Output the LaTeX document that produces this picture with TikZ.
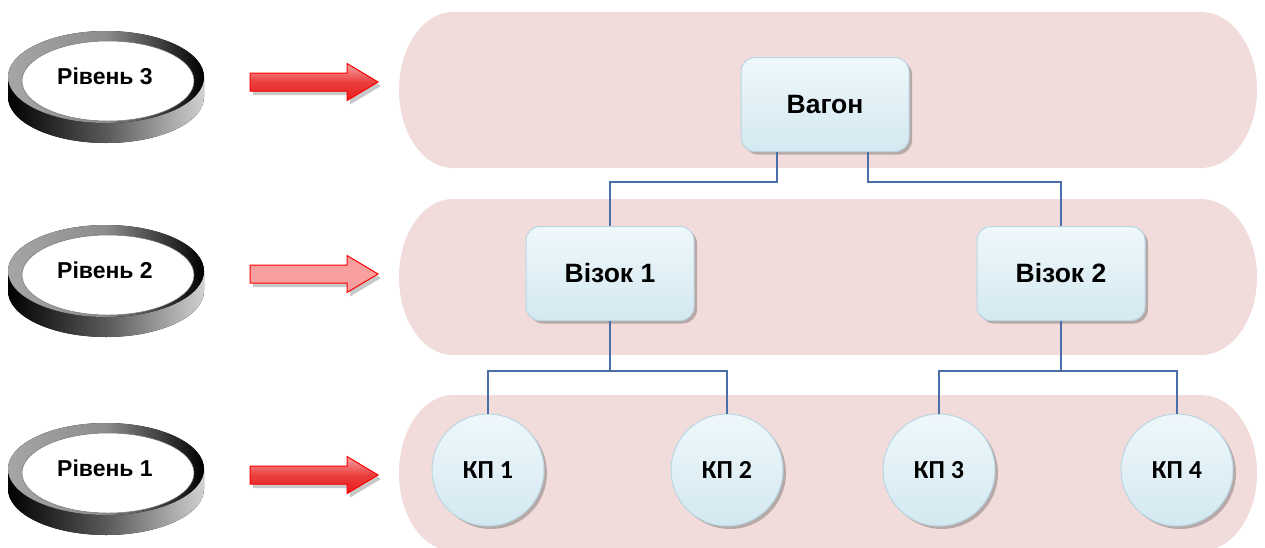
\documentclass[tikz,border=0pt]{standalone}
\usepackage{fontspec}
\setmainfont{Liberation Sans}
\newfontfamily\kpfont{Carlito}
\usetikzlibrary{shadows}
\definecolor{bandpink}{HTML}{F2DCDB}
\definecolor{boxtop}{HTML}{EFF8FB}
\definecolor{boxbot}{HTML}{D3E8F0}
\definecolor{boxedge}{HTML}{B8D7E3}
\definecolor{connblue}{HTML}{4A6FA8}
\definecolor{arrred}{HTML}{E81C1C}
\definecolor{arrlight}{HTML}{F8A0A0}
\newcommand\ringlevel[3]{%
  \fill[left color=black, right color=black!18, middle color=black!65]
    (8,{#1+1}) -- (8,{#1+21}) arc[start angle=180, end angle=0, x radius=98, y radius=46] -- (204,{#1+1}) -- cycle;
  \fill[left color=black!35, right color=black, middle color=black!45]
    (106,{#1+1}) ellipse[x radius=98, y radius=46];
  \fill[white, draw=black!55, line width=0.5pt] (108,{#1+5}) ellipse[x radius=86, y radius=40];
  \node[ringtext] (#2) at (105,#1) {#3};
}
\newcommand\blockarrow[2]{%
  \fill[#2] (250,{#1-9}) -- (347,{#1-9}) -- (347,{#1-18.5}) -- (378,#1) -- (347,{#1+18.5}) -- (347,{#1+9}) -- (250,{#1+9}) -- cycle;
}
\begin{document}
\begin{tikzpicture}[x=1pt,y=-1pt,
  ringtext/.style={font=\fontsize{23}{27}\selectfont\bfseries, inner sep=0pt},
  box/.style={rectangle, rounded corners=14pt, minimum width=168pt, minimum height=94pt,
    top color=boxtop, bottom color=boxbot, draw=boxedge, line width=1pt,
    drop shadow={shadow xshift=3pt, shadow yshift=-3pt, opacity=0.35, fill=black!70},
    font=\fontsize{26.5}{30}\selectfont\bfseries},
  kp/.style={circle, minimum size=112pt, inner sep=0pt,
    top color=boxtop, bottom color=boxbot, draw=boxedge, line width=1pt,
    drop shadow={shadow xshift=3pt, shadow yshift=-3pt, opacity=0.35, fill=black!70},
    font=\kpfont\fontsize{26}{30}\selectfont\bfseries},
  conn/.style={draw=connblue, line width=1.1pt},
  redarrow/.style={top color=arrred!40, bottom color=arrred, middle color=arrred!85, draw=red, line width=1pt,
    drop shadow={shadow xshift=3pt, shadow yshift=-4pt, opacity=0.3, fill=black!70}},
  pinkarrow/.style={fill=arrlight, draw=red, line width=1pt,
    drop shadow={shadow xshift=3pt, shadow yshift=-4pt, opacity=0.3, fill=black!70}},
  bandfill/.style={fill=bandpink}
]
\useasboundingbox (0,0) rectangle (1265,547);
\clip (0,0) rectangle (1265,547);
\fill[white] (0,0) rectangle (1265,547);

% bands
\fill[bandfill] (453,90) ellipse[x radius=54, y radius=78] (1201,90) ellipse[x radius=56, y radius=78];
\fill[bandfill] (453,12) rectangle (1201,168);
\fill[bandfill] (453,277) ellipse[x radius=54, y radius=78] (1201,277) ellipse[x radius=56, y radius=78];
\fill[bandfill] (453,199) rectangle (1201,355);
\fill[bandfill] (453,473) ellipse[x radius=54, y radius=78] (1201,473) ellipse[x radius=56, y radius=78];
\fill[bandfill] (453,395) rectangle (1201,551);

% rings
\ringlevel{76}{r3}{Рівень 3}
\ringlevel{270}{r2}{Рівень 2}
\ringlevel{468}{r1}{Рівень 1}

% arrows
\blockarrow{82}{redarrow}
\blockarrow{274}{pinkarrow}
\blockarrow{475}{redarrow}

% nodes
\node[box] (wagon) at (825,104.5) {Вагон};
\node[box] (viz1) at (610,273.5) {Візок 1};
\node[box] (viz2) at (1061,273.5) {Візок 2};
\node[kp] (kp1) at (488,470) {КП 1};
\node[kp] (kp2) at (727,470) {КП 2};
\node[kp] (kp3) at (939,470) {КП 3};
\node[kp] (kp4) at (1177,470) {КП 4};

% connectors
\draw[conn] ([xshift=-48pt]wagon.south) -- ++(0,30) -| (viz1.north);
\draw[conn] ([xshift=43pt]wagon.south) -- ++(0,30) -| (viz2.north);
\draw[conn] (viz1.south) -- ++(0,50) coordinate (b1);
\draw[conn] (b1) -| (kp1.north);
\draw[conn] (b1) -| (kp2.north);
\draw[conn] (viz2.south) -- ++(0,50) coordinate (b2);
\draw[conn] (b2) -| (kp3.north);
\draw[conn] (b2) -| (kp4.north);
\end{tikzpicture}
\end{document}
